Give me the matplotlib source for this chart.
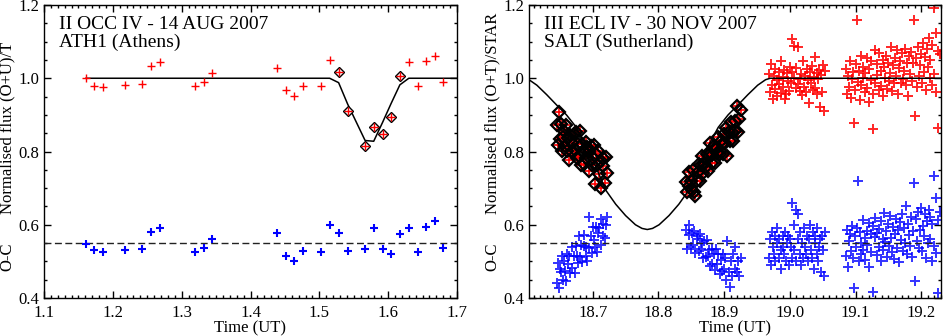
import matplotlib
matplotlib.use("Agg")
import matplotlib.pyplot as plt
from matplotlib.ticker import MultipleLocator, FormatStrFormatter

plt.rcParams['font.family'] = ['Liberation Serif', 'DejaVu Serif']

# ---------------- left panel: II OCC IV, ATH1 ----------------
occ_time = [1.161, 1.173, 1.186, 1.217, 1.243, 1.255, 1.268, 1.319, 1.332, 1.344,
            1.438, 1.451, 1.463, 1.476, 1.502, 1.515, 1.528, 1.541, 1.567, 1.579,
            1.592, 1.604, 1.617, 1.630, 1.643, 1.655, 1.668, 1.680]
occ_flux = [1.000, 0.980, 0.975, 0.981, 0.985, 1.033, 1.044, 0.979, 0.989, 1.014,
            1.029, 0.969, 0.951, 0.980, 0.978, 1.051, 1.016, 0.910, 0.816, 0.868,
            0.849, 0.894, 1.006, 1.044, 0.978, 1.047, 1.060, 0.990]
occ_resid = [0.547, 0.530, 0.525, 0.530, 0.534, 0.581, 0.592, 0.526, 0.536, 0.561,
             0.578, 0.516, 0.500, 0.528, 0.526, 0.599, 0.577, 0.527, 0.535, 0.590,
             0.535, 0.521, 0.575, 0.592, 0.526, 0.595, 0.609, 0.537]
# points used in the fit (marked with diamonds)
occ_fit_idx = [16, 17, 18, 19, 20, 21, 22]

occ_model_t = [1.161, 1.515, 1.528, 1.541, 1.5665, 1.579, 1.592, 1.604, 1.617, 1.630, 1.700]
occ_model_f = [1.000, 1.000, 0.988, 0.930, 0.830, 0.828, 0.880, 0.930, 0.982, 1.000, 1.000]

# ---------------- right panel: III ECL IV, SALT ----------------
ecl_model_t = [18.603, 18.615, 18.630, 18.645, 18.660, 18.675, 18.690, 18.705, 18.720,
               18.735, 18.750, 18.765, 18.775, 18.783, 18.791, 18.801, 18.816, 18.831,
               18.846, 18.861, 18.876, 18.891, 18.906, 18.921, 18.936, 18.951, 18.963,
               18.970, 19.230]
ecl_model_f = [0.996, 0.981, 0.955, 0.927, 0.900, 0.866, 0.816, 0.757, 0.694,
               0.656, 0.625, 0.600, 0.590, 0.587, 0.590, 0.600, 0.625, 0.656,
               0.694, 0.757, 0.816, 0.866, 0.900, 0.927, 0.955, 0.981, 0.996,
               1.000, 1.000]

# ingress chunk (fitted)
ing_t = [18.645, 18.647, 18.648, 18.650, 18.651, 18.653, 18.655, 18.656, 18.658, 18.660,
         18.661, 18.663, 18.664, 18.666, 18.668, 18.669, 18.671, 18.673, 18.674, 18.676,
         18.677, 18.679, 18.681, 18.682, 18.684, 18.686, 18.687, 18.689, 18.690, 18.692,
         18.694, 18.695, 18.697, 18.699, 18.700, 18.702, 18.703, 18.705, 18.707, 18.708,
         18.710, 18.712, 18.713, 18.715, 18.716, 18.718, 18.720, 18.722]
ing_flux = [0.871, 0.819, 0.908, 0.835, 0.874, 0.801, 0.839, 0.857, 0.815, 0.872,
            0.801, 0.838, 0.777, 0.844, 0.822, 0.800, 0.848, 0.805, 0.854, 0.781,
            0.820, 0.788, 0.855, 0.764, 0.821, 0.799, 0.767, 0.825, 0.783, 0.811,
            0.748, 0.798, 0.814, 0.762, 0.781, 0.818, 0.712, 0.794, 0.762, 0.801,
            0.738, 0.775, 0.700, 0.781, 0.760, 0.715, 0.785, 0.742]
ing_resid = [0.442, 0.495, 0.427, 0.480, 0.472, 0.515, 0.448, 0.500, 0.474, 0.447,
             0.519, 0.492, 0.514, 0.467, 0.540, 0.482, 0.515, 0.469, 0.541, 0.514,
             0.496, 0.569, 0.512, 0.544, 0.497, 0.541, 0.573, 0.516, 0.538, 0.501,
             0.620, 0.536, 0.569, 0.523, 0.594, 0.558, 0.539, 0.593, 0.526, 0.578,
             0.591, 0.545, 0.616, 0.570, 0.601, 0.565, 0.598, 0.622]

# egress chunk (fitted)
egr_t = [18.842, 18.844, 18.846, 18.847, 18.849, 18.851, 18.853, 18.854, 18.856, 18.858,
         18.860, 18.861, 18.863, 18.865, 18.867, 18.868, 18.870, 18.872, 18.874, 18.875,
         18.877, 18.879, 18.881, 18.882, 18.884, 18.886, 18.888, 18.889, 18.891, 18.893,
         18.895, 18.896, 18.898, 18.900, 18.902, 18.903, 18.905, 18.907, 18.909, 18.910,
         18.912, 18.914, 18.916, 18.917, 18.919, 18.921, 18.923, 18.925]
egr_flux = [0.716, 0.690, 0.744, 0.706, 0.720, 0.695, 0.749, 0.690, 0.678, 0.720,
            0.744, 0.766, 0.720, 0.764, 0.789, 0.741, 0.765, 0.759, 0.793, 0.746,
            0.790, 0.824, 0.768, 0.790, 0.815, 0.769, 0.813, 0.795, 0.840, 0.794,
            0.828, 0.820, 0.794, 0.849, 0.823, 0.865, 0.789, 0.853, 0.828, 0.880,
            0.854, 0.828, 0.883, 0.855, 0.925, 0.853, 0.888, 0.912]
egr_resid = [0.585, 0.533, 0.571, 0.600, 0.538, 0.577, 0.545, 0.584, 0.523, 0.562,
             0.570, 0.528, 0.576, 0.533, 0.550, 0.508, 0.555, 0.511, 0.558, 0.515,
             0.532, 0.488, 0.535, 0.493, 0.520, 0.477, 0.533, 0.492, 0.519, 0.466,
             0.504, 0.473, 0.521, 0.480, 0.510, 0.450, 0.555, 0.470, 0.430, 0.500,
             0.460, 0.520, 0.480, 0.540, 0.470, 0.500, 0.460, 0.510]

# out of eclipse, first chunk
out1_t = [18.968, 18.970, 18.971, 18.973, 18.974, 18.976, 18.977, 18.978, 18.980, 18.981,
          18.983, 18.984, 18.986, 18.987, 18.989, 18.990, 18.991, 18.993, 18.994, 18.996,
          18.997, 18.999, 19.000, 19.002, 19.003, 19.004, 19.006, 19.007, 19.009, 19.010,
          19.012, 19.013, 19.015, 19.016, 19.017, 19.019, 19.020, 19.022, 19.023, 19.025,
          19.026, 19.028, 19.029, 19.030, 19.032, 19.033, 19.035, 19.036, 19.038, 19.039,
          19.041, 19.042, 19.043, 19.045, 19.046, 19.048, 19.049, 19.051, 19.052, 19.054]
out1_flux = [1.012, 0.963, 1.038, 0.981, 0.942, 1.007, 1.026, 0.972, 0.996, 0.951,
             1.018, 0.984, 1.047, 0.961, 1.004, 0.977, 1.023, 0.944, 0.958, 1.013,
             0.992, 0.966, 1.031, 0.987, 1.016, 1.108, 1.002, 1.088, 0.973, 1.028,
             0.983, 1.086, 0.964, 0.998, 1.011, 0.953, 1.046, 0.976, 1.006, 0.962,
             1.024, 0.994, 0.932, 1.017, 0.986, 1.033, 0.967, 1.003, 1.057, 0.974,
             1.014, 0.956, 0.997, 1.022, 0.921, 1.008, 0.963, 1.036, 0.911, 1.019]
out1_resid = [0.51, 0.56, 0.49, 0.58, 0.54, 0.52, 0.57, 0.50, 0.55, 0.59,
              0.51, 0.56, 0.53, 0.48, 0.57, 0.54, 0.52, 0.58, 0.50, 0.55,
              0.57, 0.49, 0.56, 0.54, 0.66, 0.51, 0.60, 0.53, 0.64, 0.50,
              0.56, 0.63, 0.52, 0.58, 0.49, 0.55, 0.51, 0.59, 0.54, 0.52,
              0.57, 0.50, 0.56, 0.60, 0.53, 0.51, 0.58, 0.48, 0.55, 0.57,
              0.52, 0.59, 0.50, 0.54, 0.56, 0.47, 0.57, 0.53, 0.46, 0.58]

# out of eclipse, second chunk
out2_t = [19.085, 19.087, 19.088, 19.090, 19.091, 19.093, 19.094, 19.096, 19.097, 19.099,
          19.100, 19.102, 19.103, 19.105, 19.106, 19.108, 19.109, 19.111, 19.112, 19.114,
          19.115, 19.117, 19.118, 19.120, 19.121, 19.123, 19.124, 19.126, 19.127, 19.129,
          19.130, 19.132, 19.133, 19.135, 19.136, 19.138, 19.139, 19.141, 19.142, 19.144,
          19.145, 19.147, 19.148, 19.150, 19.151, 19.153, 19.154, 19.156, 19.157, 19.159,
          19.160, 19.162, 19.163, 19.165, 19.166, 19.168, 19.169, 19.171, 19.172, 19.174,
          19.175, 19.177, 19.178, 19.180, 19.181, 19.183, 19.184, 19.186, 19.187, 19.189,
          19.190, 19.192, 19.193, 19.195, 19.196, 19.198, 19.199, 19.201, 19.202, 19.204,
          19.205, 19.207, 19.208, 19.210, 19.211, 19.213, 19.214, 19.216, 19.217, 19.219,
          19.220, 19.222, 19.223, 19.225, 19.226, 19.228]
out2_flux = [1.025, 0.956, 1.006, 0.976, 1.046, 0.947, 0.997, 1.018, 0.878, 0.969,
             1.039, 1.160, 0.990, 1.021, 0.941, 1.061, 0.981, 1.002, 1.032, 0.963,
             1.013, 1.054, 0.974, 1.025, 0.935, 1.046, 0.996, 0.956, 0.862, 1.077,
             0.988, 1.038, 1.008, 0.969, 1.069, 0.980, 1.020, 1.051, 0.951, 1.032,
             1.002, 1.062, 0.972, 1.043, 0.993, 1.014, 1.084, 0.965, 1.035, 0.986,
             1.056, 1.007, 1.077, 0.957, 1.027, 1.048, 0.988, 1.069, 0.999, 1.020,
             1.080, 0.981, 1.041, 0.952, 1.062, 1.012, 1.072, 0.993, 1.043, 1.160,
             0.897, 1.055, 0.975, 1.086, 1.006, 1.037, 1.067, 0.987, 1.097, 1.018,
             1.058, 0.969, 1.079, 1.030, 1.110, 1.001, 1.051, 0.982, 1.092, 1.192,
             1.012, 1.123, 0.963, 1.074, 0.864, 1.065]
out2_resid = [0.515, 0.586, 0.486, 0.556, 0.576, 0.527, 0.597, 0.508, 0.428, 0.569,
              0.539, 0.590, 0.720, 0.501, 0.581, 0.551, 0.521, 0.612, 0.532, 0.563,
              0.503, 0.584, 0.544, 0.605, 0.485, 0.576, 0.526, 0.596, 0.417, 0.567,
              0.618, 0.518, 0.578, 0.539, 0.589, 0.500, 0.610, 0.561, 0.531, 0.632,
              0.552, 0.582, 0.512, 0.603, 0.543, 0.624, 0.564, 0.525, 0.595, 0.506,
              0.576, 0.617, 0.537, 0.587, 0.497, 0.608, 0.558, 0.629, 0.529, 0.590,
              0.550, 0.651, 0.521, 0.602, 0.572, 0.542, 0.622, 0.513, 0.583, 0.714,
              0.446, 0.615, 0.555, 0.636, 0.536, 0.587, 0.647, 0.527, 0.597, 0.568,
              0.628, 0.509, 0.609, 0.550, 0.640, 0.561, 0.621, 0.502, 0.602, 0.732,
              0.543, 0.673, 0.523, 0.614, 0.414, 0.635]

OC_LEVEL = 0.55


def style_axes(ax, xlim):
    """IDL look: inward ticks on all four sides, serif labels"""
    ax.set_xlim(xlim)
    ax.set_ylim(0.4, 1.2)
    ax.xaxis.set_major_locator(MultipleLocator(0.1))
    ax.xaxis.set_minor_locator(MultipleLocator(0.01))
    ax.yaxis.set_major_locator(MultipleLocator(0.2))
    ax.yaxis.set_minor_locator(MultipleLocator(0.05))
    ax.xaxis.set_major_formatter(FormatStrFormatter('%.1f'))
    ax.yaxis.set_major_formatter(FormatStrFormatter('%.1f'))
    ax.tick_params(which='both', direction='in', top=True, right=True,
                   width=1.0, labelsize=12)
    ax.tick_params(which='major', length=5)
    ax.tick_params(which='minor', length=2.5)
    ax.tick_params(axis='x', pad=5)
    ax.tick_params(axis='y', pad=3.5)
    for sp in ax.spines.values():
        sp.set_linewidth(1.0)


def labels(ax, line1, line2, ylab, ylab_y):
    ax.text(0.036, 0.918, line1, transform=ax.transAxes, fontsize=14, va='baseline')
    ax.text(0.036, 0.857, line2, transform=ax.transAxes, fontsize=14, va='baseline')
    ax.text(0.5, -0.116, "Time (UT)", transform=ax.transAxes, fontsize=12,
            ha='center', va='baseline')
    trans = ax.get_yaxis_transform()
    ax.text(-0.089, ylab_y, ylab, transform=trans, rotation=90, fontsize=12,
            ha='center', va='center')
    ax.text(-0.089, 0.513, "O-C", transform=trans, rotation=90, fontsize=12,
            ha='center', va='center')


def left_panel(ax):
    style_axes(ax, (1.1, 1.7))
    ax.plot(occ_model_t, occ_model_f, color='black', lw=1.1, zorder=3)
    ax.axhline(OC_LEVEL, color='#222222', lw=1.0, dashes=(5, 2.5), zorder=3)
    fit_t = [occ_time[i] for i in occ_fit_idx]
    fit_f = [occ_flux[i] for i in occ_fit_idx]
    ax.plot(fit_t, fit_f, 'D', mfc='white', mec='black', ms=5.4, mew=1.0, zorder=4)
    ax.plot(occ_time, occ_flux, '+', color='red', ms=6, mew=1.0, zorder=5)
    ax.plot(occ_time, occ_resid, '+', color='blue', ms=6, mew=1.5, zorder=5)
    labels(ax, "II OCC IV - 14 AUG 2007", "ATH1 (Athens)",
           "Normalised flux (O+U)/T", 0.865)


def right_panel(ax):
    style_axes(ax, (18.603, 19.230))
    for t, f, r in [(ing_t, ing_flux, ing_resid), (egr_t, egr_flux, egr_resid)]:
        ax.plot(t, f, '+', color='red', ms=7, mew=1.2, zorder=2)
        ax.plot(t, f, 'D', mfc='none', mec='black', ms=6.6, mew=1.6, zorder=3)
        ax.plot(t, r, '+', color='blue', ms=7.5, mew=1.4, alpha=0.8, zorder=2)
    for t, f, r in [(out1_t, out1_flux, out1_resid), (out2_t, out2_flux, out2_resid)]:
        ax.plot(t, f, '+', color='red', ms=7.5, mew=1.4, alpha=0.85, zorder=2)
        ax.plot(t, r, '+', color='blue', ms=7.5, mew=1.4, alpha=0.8, zorder=2)
    ax.plot(ecl_model_t, ecl_model_f, color='black', lw=1.1, zorder=4)
    ax.axhline(OC_LEVEL, color='#222222', lw=1.0, dashes=(5, 2.5), zorder=4)
    labels(ax, "III ECL IV - 30 NOV 2007", "SALT (Sutherland)",
           "Normalised flux (O+T)/STAR", 0.905)


def main():
    fig = plt.figure(figsize=(9.43, 3.36), dpi=100)
    ax1 = fig.add_axes([44 / 943, 38 / 336, 413 / 943, 293 / 336])
    ax2 = fig.add_axes([529 / 943, 38 / 336, 412 / 943, 293 / 336])
    left_panel(ax1)
    right_panel(ax2)
    fig.savefig("out.png", dpi=100)


main()
